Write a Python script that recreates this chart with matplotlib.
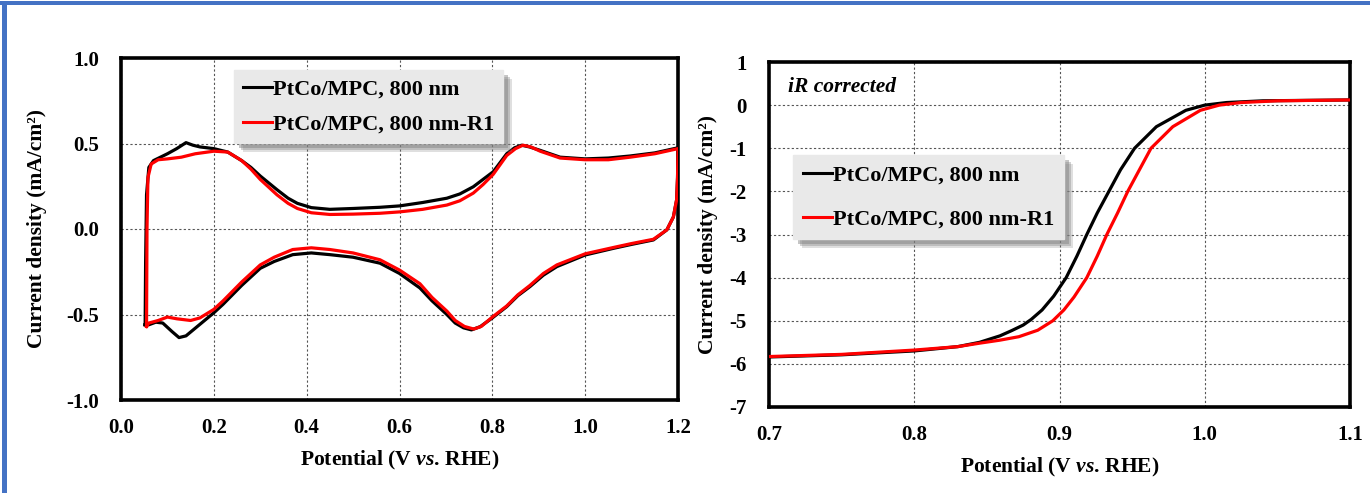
import matplotlib
matplotlib.use("Agg")
import matplotlib.pyplot as plt
from matplotlib.patches import Rectangle

plt.rcParams['font.family'] = ['Liberation Serif', 'DejaVu Serif']
plt.rcParams['font.weight'] = 'bold'
plt.rcParams['mathtext.fontset'] = 'custom'
plt.rcParams['mathtext.rm'] = 'Liberation Serif:bold'
plt.rcParams['mathtext.it'] = 'Liberation Serif:bold:italic'

# ---------------- data ----------------
series_labels = ["PtCo/MPC, 800 nm", "PtCo/MPC, 800 nm-R1"]
series_colors = ["#000000", "#ff0000"]

# CV (left panel): anodic sweep then cathodic sweep
cv_black_anodic_E = [0.052, 0.053, 0.055, 0.06, 0.07, 0.085, 0.10, 0.12, 0.14, 0.155, 0.17, 0.20, 0.23,
                     0.26, 0.28, 0.30, 0.336, 0.36, 0.38, 0.41, 0.45, 0.50, 0.558, 0.60, 0.65, 0.702,
                     0.73, 0.759, 0.78, 0.802, 0.831, 0.848, 0.863, 0.88, 0.903, 0.946, 1.00, 1.05,
                     1.097, 1.15, 1.20]
cv_black_anodic_j = [-0.56, -0.20, 0.20, 0.36, 0.40, 0.42, 0.44, 0.47, 0.505, 0.49, 0.48, 0.47, 0.45,
                     0.40, 0.36, 0.31, 0.23, 0.18, 0.15, 0.125, 0.115, 0.12, 0.127, 0.135, 0.155, 0.18,
                     0.205, 0.247, 0.29, 0.335, 0.44, 0.475, 0.49, 0.48, 0.46, 0.42, 0.41, 0.415,
                     0.427, 0.445, 0.475]
cv_black_cathodic_E = [1.20, 1.199, 1.197, 1.19, 1.176, 1.147, 1.10, 1.061, 1.00, 0.939, 0.91, 0.881,
                       0.855, 0.831, 0.80, 0.774, 0.755, 0.738, 0.72, 0.702, 0.67, 0.644, 0.60, 0.558,
                       0.50, 0.45, 0.41, 0.37, 0.33, 0.30, 0.26, 0.22, 0.20, 0.16, 0.14, 0.125, 0.11,
                       0.09, 0.075, 0.06, 0.052]
cv_black_cathodic_j = [0.475, 0.30, 0.17, 0.07, -0.005, -0.064, -0.09, -0.113, -0.152, -0.22, -0.27,
                       -0.337, -0.39, -0.454, -0.52, -0.571, -0.59, -0.578, -0.55, -0.50, -0.42, -0.345,
                       -0.26, -0.20, -0.165, -0.15, -0.14, -0.15, -0.19, -0.23, -0.33, -0.44, -0.49,
                       -0.58, -0.625, -0.635, -0.60, -0.55, -0.545, -0.56, -0.56]

cv_red_anodic_E = [0.055, 0.056, 0.058, 0.065, 0.08, 0.10, 0.13, 0.16, 0.20, 0.23, 0.26, 0.28, 0.30,
                   0.336, 0.36, 0.38, 0.41, 0.45, 0.50, 0.558, 0.60, 0.65, 0.702, 0.73, 0.759, 0.78,
                   0.802, 0.831, 0.85, 0.866, 0.883, 0.903, 0.946, 1.00, 1.05, 1.097, 1.15, 1.20]
cv_red_anodic_j = [-0.57, 0.0, 0.30, 0.38, 0.405, 0.41, 0.42, 0.44, 0.455, 0.45, 0.40, 0.35, 0.29,
                   0.20, 0.15, 0.12, 0.095, 0.085, 0.087, 0.092, 0.10, 0.115, 0.14, 0.165, 0.21, 0.26,
                   0.32, 0.43, 0.47, 0.49, 0.48, 0.455, 0.415, 0.405, 0.405, 0.42, 0.44, 0.47]
cv_red_cathodic_E = [1.20, 1.199, 1.197, 1.19, 1.176, 1.147, 1.10, 1.061, 1.00, 0.939, 0.91, 0.881,
                     0.855, 0.831, 0.80, 0.776, 0.76, 0.74, 0.72, 0.702, 0.67, 0.644, 0.60, 0.558,
                     0.50, 0.45, 0.41, 0.37, 0.33, 0.30, 0.26, 0.22, 0.20, 0.17, 0.15, 0.12, 0.10,
                     0.08, 0.06, 0.055]
cv_red_cathodic_j = [0.47, 0.30, 0.17, 0.07, -0.005, -0.06, -0.085, -0.108, -0.145, -0.21, -0.26,
                     -0.33, -0.385, -0.45, -0.515, -0.57, -0.585, -0.57, -0.535, -0.48, -0.40, -0.32,
                     -0.24, -0.18, -0.14, -0.12, -0.11, -0.12, -0.165, -0.21, -0.31, -0.42, -0.47,
                     -0.52, -0.535, -0.525, -0.515, -0.535, -0.55, -0.57]

# LSV (right panel)
lsv_black_E = [0.70, 0.75, 0.80, 0.83, 0.845, 0.859, 0.867, 0.875, 0.8805, 0.888, 0.896, 0.9046,
               0.912, 0.9188, 0.926, 0.934, 0.942, 0.9517, 0.9667, 0.987, 1.00, 1.015, 1.04, 1.10]
lsv_black_j = [-5.84, -5.79, -5.70, -5.60, -5.50, -5.35, -5.23, -5.10, -4.97, -4.75, -4.43, -4.0,
               -3.5, -3.0, -2.5, -2.0, -1.5, -1.0, -0.5, -0.12, 0.0, 0.06, 0.10, 0.12]
lsv_red_E = [0.70, 0.75, 0.80, 0.83, 0.845, 0.859, 0.872, 0.885, 0.8954, 0.903, 0.910, 0.9188,
             0.926, 0.9326, 0.940, 0.947, 0.955, 0.963, 0.978, 0.997, 1.01, 1.025, 1.05, 1.10]
lsv_red_j = [-5.83, -5.78, -5.68, -5.60, -5.52, -5.45, -5.37, -5.22, -5.0, -4.75, -4.45, -4.0,
             -3.5, -3.0, -2.5, -2.0, -1.5, -1.0, -0.5, -0.12, 0.0, 0.06, 0.10, 0.12]

cv_xticks = [0.0, 0.2, 0.4, 0.6, 0.8, 1.0, 1.2]
cv_xticklabels = ["0.0", "0.2", "0.4", "0.6", "0.8", "1.0", "1.2"]
cv_yticks = [-1.0, -0.5, 0.0, 0.5, 1.0]
cv_yticklabels = ["-1.0", "-0.5", "0.0", "0.5", "1.0"]
lsv_xticks = [0.7, 0.8, 0.9, 1.0, 1.1]
lsv_xticklabels = ["0.7", "0.8", "0.9", "1.0", "1.1"]
lsv_yticks = [-7, -6, -5, -4, -3, -2, -1, 0, 1]
lsv_yticklabels = ["-7", "-6", "-5", "-4", "-3", "-2", "-1", "0", "1"]

xlabel_text = r"Potential (V $\mathit{vs}$. RHE)"
ylabel_text = "Current density (mA/cm²)"
annot_text = "iR corrected"

# ---------------- figure ----------------
W, H = 1370, 493
fig = plt.figure(figsize=(W / 100, H / 100), dpi=100)

def px_axes(l, t, r, b):
    return fig.add_axes([l / W, 1 - b / H, (r - l) / W, (b - t) / H])

ax1 = px_axes(121, 58, 678, 400)
ax2 = px_axes(769, 62, 1350, 407)

lw = 2.3
ax1.plot(cv_black_anodic_E + cv_black_cathodic_E, cv_black_anodic_j + cv_black_cathodic_j,
         color=series_colors[0], lw=lw, label=series_labels[0], zorder=3, solid_joinstyle='round')
ax1.plot(cv_red_anodic_E + cv_red_cathodic_E, cv_red_anodic_j + cv_red_cathodic_j,
         color=series_colors[1], lw=lw, label=series_labels[1], zorder=4, solid_joinstyle='round')
ax2.plot(lsv_black_E, lsv_black_j, color=series_colors[0], lw=lw, label=series_labels[0], zorder=3,
         solid_joinstyle='round')
ax2.plot(lsv_red_E, lsv_red_j, color=series_colors[1], lw=lw, label=series_labels[1], zorder=4,
         solid_joinstyle='round')

for ax, xt, xtl, yt, ytl in [(ax1, cv_xticks, cv_xticklabels, cv_yticks, cv_yticklabels),
                             (ax2, lsv_xticks, lsv_xticklabels, lsv_yticks, lsv_yticklabels)]:
    ax.set_xlim(xt[0], xt[-1])
    ax.set_ylim(yt[0], yt[-1])
    ax.set_xticks(xt)
    ax.set_xticklabels(xtl)
    ax.set_yticks(yt)
    ax.set_yticklabels(ytl)
    ax.tick_params(length=0, labelsize=15, pad=13)
    ax.tick_params(axis='y', pad=16)
    for s in ax.spines.values():
        s.set_linewidth(2.6)
        s.set_color('black')
    ax.grid(True, color='#555555', linestyle=(0, (2, 2)), lw=0.8)
    ax.set_axisbelow(True)
    ax.set_xlabel(xlabel_text, fontsize=15.5, fontweight='bold', labelpad=8)
    ax.set_ylabel(ylabel_text, fontsize=15.5, fontweight='bold')

ax1.yaxis.set_label_coords((47 - 121) / 557, 0.5)
ax2.yaxis.set_label_coords((718 - 769) / 581, 0.5)

ax2.text(0.033, 0.928, annot_text, transform=ax2.transAxes, fontsize=15.5,
         fontweight='bold', fontstyle='italic', va='center', ha='left')

leg_kw = dict(fontsize=16, frameon=True, fancybox=False, handlelength=1.3, handletextpad=0.05,
              borderaxespad=0, loc='upper left')
leg1 = ax1.legend(bbox_to_anchor=(234 / W, 1 - 70 / H), bbox_transform=fig.transFigure,
                  labelspacing=0.65, borderpad=0.4, **leg_kw)
leg2 = ax2.legend(bbox_to_anchor=(793 / W, 1 - 155 / H), bbox_transform=fig.transFigure,
                  labelspacing=1.05, borderpad=0.45, **leg_kw)
for leg in (leg1, leg2):
    fr = leg.get_frame()
    fr.set_facecolor('#e9e9e9')
    fr.set_edgecolor('#e9e9e9')
    fr.set_alpha(1)
    for h in leg.legend_handles:
        h.set_linewidth(2.2)
    leg.set_zorder(10)

# shadows behind legends
fig.canvas.draw()
for leg, ax in ((leg1, ax1), (leg2, ax2)):
    bb = leg.get_window_extent()
    for off, a in ((9, 0.25), (7, 0.35), (5, 0.45)):
        ax.add_patch(Rectangle((bb.x0 + off, bb.y0 - off), bb.width, bb.height,
                               transform=None, facecolor='#808080', edgecolor='none',
                               alpha=a, zorder=9, clip_on=False))

# blue border (top and left)
fig.patches.append(Rectangle((0, 1 - 5 / H), 1, 4 / H, transform=fig.transFigure,
                             facecolor='#4472c4', edgecolor='none'))
fig.patches.append(Rectangle((2 / W, 0), 5 / W, 1 - 1 / H, transform=fig.transFigure,
                             facecolor='#4472c4', edgecolor='none'))

fig.savefig("out.png", dpi=100)
